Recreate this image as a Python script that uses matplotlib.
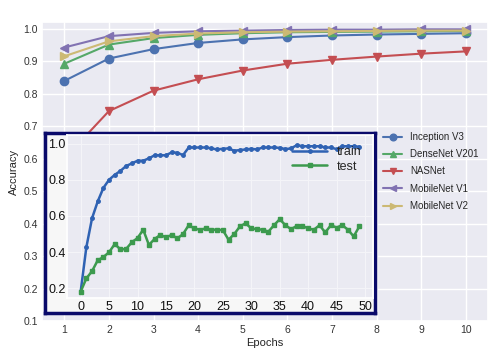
import numpy as np
import matplotlib.pyplot as plt
import seaborn as sns

sns.set_theme(style="darkgrid")
plt.rcParams['font.family'] = ['Liberation Sans', 'DejaVu Sans']

# dados principais
epochs = [1, 2, 3, 4, 5, 6, 7, 8, 9, 10]
inception_v3 = [0.840, 0.909, 0.938, 0.957, 0.968, 0.975, 0.980, 0.983, 0.985, 0.987]
densenet_v201 = [0.893, 0.952, 0.972, 0.982, 0.987, 0.990, 0.991, 0.992, 0.993, 0.994]
nasnet = [0.600, 0.747, 0.810, 0.845, 0.872, 0.893, 0.905, 0.915, 0.924, 0.931]
mobilenet_v1 = [0.943, 0.978, 0.988, 0.993, 0.995, 0.997, 0.998, 0.998, 0.999, 0.999]
mobilenet_v2 = [0.916, 0.962, 0.978, 0.986, 0.990, 0.992, 0.993, 0.994, 0.995, 0.995]

# dados do gráfico pequeno (train/test)
inset_epochs = list(range(50))
train = [0.182, 0.427, 0.587, 0.680, 0.755, 0.800, 0.827, 0.849, 0.876, 0.890,
         0.905, 0.905, 0.918, 0.935, 0.935, 0.935, 0.951, 0.949, 0.936, 0.978,
         0.978, 0.978, 0.978, 0.973, 0.967, 0.971, 0.973, 0.960, 0.964, 0.967,
         0.971, 0.967, 0.978, 0.978, 0.978, 0.976, 0.969, 0.973, 0.991, 0.985,
         0.985, 0.985, 0.985, 0.978, 0.978, 0.969, 0.985, 0.985, 0.985, 0.982]
test = [0.182, 0.255, 0.295, 0.355, 0.373, 0.400, 0.445, 0.415, 0.418, 0.455,
        0.478, 0.524, 0.440, 0.473, 0.495, 0.482, 0.495, 0.476, 0.500, 0.549,
        0.531, 0.524, 0.531, 0.524, 0.524, 0.522, 0.469, 0.500, 0.542, 0.560,
        0.531, 0.527, 0.524, 0.513, 0.549, 0.582, 0.549, 0.527, 0.545, 0.545,
        0.531, 0.524, 0.549, 0.509, 0.549, 0.536, 0.549, 0.524, 0.487, 0.542]

fig = plt.figure(figsize=(4.95, 3.59), dpi=100)
ax = fig.add_axes([42/495, 1-321/359, 446/495, 299/359])

ax.plot(epochs, inception_v3, marker="o", ms=6, color="#4C72B0", label="Inception V3")
ax.plot(epochs, densenet_v201, marker="^", ms=6, color="#55A868", label="DenseNet V201")
ax.plot(epochs, nasnet, marker="v", ms=6, color="#C44E52", label="NASNet")
ax.plot(epochs, mobilenet_v1, marker="<", ms=6, color="#8172B2", label="MobileNet V1")
ax.plot(epochs, mobilenet_v2, marker=">", ms=6, color="#CCB974", label="MobileNet V2")

ax.set_xlim(0.5, 10.5)
ax.set_ylim(0.1, 1.0216)
ax.set_xticks(epochs)
ax.set_yticks(np.arange(0.1, 1.01, 0.1))
ax.set_yticklabels(["0.1", "0.2", "0.3", "0.4", "0.5", "0.6", "0.7", "0.8", "0.9", "1.0"])
ax.tick_params(labelsize=7.5, colors="#333333", pad=3, length=0)
ax.set_xlabel("Epochs", fontsize=8, labelpad=2)
ax.set_ylabel("Accuracy", fontsize=8, labelpad=3)
ax.legend(loc="center left", bbox_to_anchor=(0.745, 0.5), frameon=False,
          fontsize=7, handlelength=2.0, labelspacing=0.75, markerscale=0.8)

# caixa do gráfico inserido
box = fig.add_axes([45/495, 1-313/359, 330/495, 180/359])
box.set_facecolor("#f7f7f7")
box.set_xticks([])
box.set_yticks([])
box.grid(False)
for s in box.spines.values():
    s.set_visible(True)
    s.set_color("#0a0a6a")
    s.set_linewidth(2.5)

ins = fig.add_axes([67/495, 1-298/359, 306/495, 163/359])
ins.plot(inset_epochs, train, marker="o", ms=2.5, lw=1.8, color="#2f62b3", label="train")
ins.plot(inset_epochs, test, marker="s", ms=2.5, lw=1.8, color="#3c9a4e", label="test")
ins.set_xlim(-2.4, 51.4)
ins.set_ylim(0.147, 1.047)
ins.set_xticks(range(0, 51, 5))
ins.set_yticks([0.2, 0.4, 0.6, 0.8, 1.0])
ins.set_yticklabels(["0.2", "0.4", "0.6", "0.8", "1.0"])
ins.grid(color="#f4f4f8", lw=0.8)
ins.tick_params(labelsize=9, colors="#111111", length=0)
ins.tick_params(axis="y", pad=1)
ins.tick_params(axis="x", pad=2)
ins.legend(loc="upper right", bbox_to_anchor=(1.0, 1.0), frameon=False,
           fontsize=9, handlelength=2.8, labelspacing=0.2)

fig.savefig("out.png", dpi=100)
